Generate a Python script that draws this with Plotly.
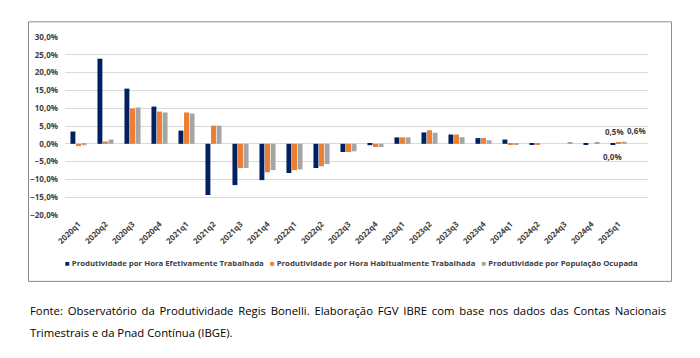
import plotly.graph_objects as go

categories = ["2020q1", "2020q2", "2020q3", "2020q4", "2021q1", "2021q2", "2021q3", "2021q4",
              "2022q1", "2022q2", "2022q3", "2022q4", "2023q1", "2023q2", "2023q3", "2023q4",
              "2024q1", "2024q2", "2024q3", "2024q4", "2025q1"]

efetiva = [3.45, 23.9, 15.5, 10.45, 3.7, -14.4, -11.6, -10.2, -8.2, -6.8, -2.3, -0.4,
           1.8, 3.2, 2.6, 1.6, 1.2, -0.3, 0.0, -0.3, -0.3]
habitual = [-0.65, 0.65, 9.9, 9.05, 8.8, 5.1, -6.8, -8.0, -7.4, -6.3, -2.3, -0.9,
            1.8, 3.8, 2.6, 1.6, -0.35, -0.3, 0.0, 0.0, 0.5]
ocupada = [-0.4, 1.2, 10.2, 8.8, 8.5, 5.1, -6.8, -7.4, -7.2, -5.7, -2.1, -0.9,
           1.8, 3.1, 1.85, 1.0, -0.35, 0.0, 0.3, 0.4, 0.6]

series_names = ["Produtividade por Hora Efetivamente Trabalhada",
                "Produtividade por Hora Habitualmente Trabalhada",
                "Produtividade por População Ocupada"]
colors = ["#002060", "#ED7D31", "#A5A5A5"]

last_labels = ["0,0%", "0,5%", "0,6%"]

footnote_1 = "Fonte: Observatório da Produtividade Regis Bonelli. Elaboração FGV IBRE com base nos dados das Contas Nacionais"
footnote_2 = "Trimestrais e da Pnad Contínua (IBGE)."

W, H = 700, 358
L, R, T, B = 65, 52, 36.7, 143
pw, ph = W - L - R, H - T - B

def px_x(p):
    return (p - L) / pw

def px_y(p):
    return (H - B - p) / ph

fig = go.Figure()
for name, vals, col in zip(series_names, [efetiva, habitual, ocupada], colors):
    fig.add_trace(go.Bar(x=categories, y=vals, name=name, marker_color=col,
                         marker_line_width=0, showlegend=False))

font = "Open Sans"

# data labels on the last quarter
shifts = [(-6, -13), (-4, 11), (18, 11)]
for vals, lab, (dx, dy) in zip([efetiva, habitual, ocupada], last_labels, shifts):
    fig.add_annotation(x=categories[-1], y=max(vals[-1], 0), text=lab, showarrow=False,
                       xshift=dx, yshift=dy,
                       font=dict(family=font, size=8, color="#404040", weight="bold"))

# legend built as text
legend_txt = "   ".join(
    f"<span style='color:{c}'>■</span> <b>{n}</b>" for n, c in zip(series_names, colors))
fig.add_annotation(xref="paper", yref="paper", x=px_x(351), y=px_y(263), text=legend_txt,
                   showarrow=False, xanchor="center", yanchor="middle",
                   font=dict(family=font, size=7.8, color="#404040"))

# footnote (first line justified via thin spaces)
just_1 = footnote_1.replace(" ", " \u2009")
fig.add_annotation(xref="paper", yref="paper", x=px_x(28), y=px_y(311), text=just_1,
                   showarrow=False, xanchor="left", yanchor="middle",
                   font=dict(family=font, size=11.3, color="#000000"))
fig.add_annotation(xref="paper", yref="paper", x=px_x(28), y=px_y(333), text=footnote_2,
                   showarrow=False, xanchor="left", yanchor="middle",
                   font=dict(family=font, size=11.3, color="#000000"))

# chart frame
fig.add_shape(type="rect", xref="paper", yref="paper",
              x0=px_x(28.5), x1=px_x(671.5), y0=px_y(281.5), y1=px_y(21.5),
              line=dict(color="#8C8C8C", width=1), fillcolor="rgba(0,0,0,0)", layer="below")

fig.update_layout(
    width=W, height=H,
    margin=dict(l=L, r=R, t=T, b=B, autoexpand=False),
    paper_bgcolor="white", plot_bgcolor="white",
    barmode="group", bargap=0.38, bargroupgap=0.12,
    separators=",.",
    showlegend=False,
    font=dict(family=font, color="#404040"),
)
fig.update_yaxes(range=[-20, 30], dtick=5, tickformat=".1f", ticksuffix="%",
                 showgrid=True, gridcolor="#D9D9D9", gridwidth=1, zeroline=True,
                 zerolinecolor="#D9D9D9", zerolinewidth=1, showline=False,
                 tickfont=dict(family=font, size=8, color="#404040", weight="bold"),
                 ticklabelstandoff=6)
fig.update_xaxes(tickangle=-45, showgrid=False, showline=False, ticks="",
                 tickfont=dict(family=font, size=8, color="#404040", weight="bold"),
                 ticklabelstandoff=2)

fig.write_html("out.html", config={"displayModeBar": False},
               post_script="document.body.style.margin='0';")
